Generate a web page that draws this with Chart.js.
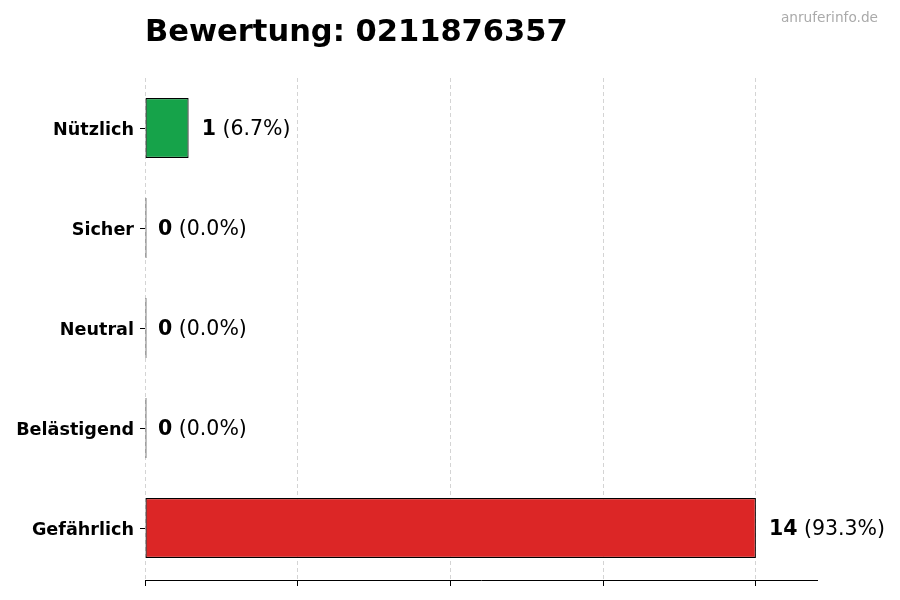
<!DOCTYPE html>
<html>
<head>
<meta charset="utf-8">
<script src="https://cdn.jsdelivr.net/npm/chart.js@4"></script>
<style>
  html, body { margin: 0; padding: 0; background: #fff; }
  #wrap { width: 900px; height: 600px; }
</style>
</head>
<body>
<div id="wrap"><canvas id="c" width="900" height="600"></canvas></div>
<script>
const categories = ["Nützlich", "Sicher", "Neutral", "Belästigend", "Gefährlich"];
const counts = [1, 0, 0, 0, 14];
const barColors = ["#16a34a", "#9ca3af", "#6b7280", "#f59e0b", "#dc2626"];
const xTicks = [0, 3.5, 7, 10.5, 14];
const titleText = "Bewertung: 0211876357";
const watermark = "anruferinfo.de";

const total = counts.reduce((a, b) => a + b, 0);
const FONT = "'DejaVu Sans', sans-serif";

// Title, watermark and the value labels next to each bar
const textPlugin = {
  id: "texts",
  afterDraw(chart) {
    const ctx = chart.ctx;
    const area = chart.chartArea;
    ctx.save();
    ctx.fillStyle = "#000";
    ctx.font = "bold 30.5px " + FONT;
    ctx.textAlign = "left";
    ctx.textBaseline = "alphabetic";
    ctx.fillText(titleText, area.left, 41);

    ctx.fillStyle = "#aaaaaa";
    ctx.font = "13.7px " + FONT;
    ctx.textAlign = "right";
    ctx.fillText(watermark, 878, 22);

    const meta = chart.getDatasetMeta(0);
    ctx.textAlign = "left";
    ctx.textBaseline = "middle";
    ctx.fillStyle = "#000";
    meta.data.forEach((bar, i) => {
      const v = counts[i];
      const pct = total ? (v / total * 100).toFixed(1) : "0.0";
      const x0 = chart.scales.x.getPixelForValue(v) + 13;
      const y0 = bar.y + 2;
      ctx.font = "bold 20.5px " + FONT;
      ctx.fillText(String(v), x0, y0);
      const w = ctx.measureText(String(v)).width;
      ctx.font = "20.5px " + FONT;
      ctx.fillText(" (" + pct + "%)", x0 + w, y0);
    });
    ctx.restore();
  }
};

new Chart(document.getElementById("c"), {
  type: "bar",
  data: {
    labels: categories,
    datasets: [{
      data: counts,
      backgroundColor: barColors,
      borderColor: "#000",
      borderWidth: 1.2,
      borderSkipped: false,
      minBarLength: 1.5,
      categoryPercentage: 1,
      barPercentage: 0.6
    }]
  },
  options: {
    indexAxis: "y",
    responsive: false,
    animation: false,
    devicePixelRatio: 1,
    layout: { padding: { top: 78, right: 83, bottom: 0, left: 0 } },
    plugins: {
      legend: { display: false },
      tooltip: { enabled: false },
      title: { display: false }
    },
    scales: {
      x: {
        min: 0,
        max: 15.4,
        z: 1,
        afterBuildTicks(scale) {
          scale.ticks = xTicks.map((v) => ({ value: v }));
        },
        afterFit(scale) { scale.height = 20; },
        ticks: { callback: () => "", font: { size: 1 } },
        grid: {
          color: "#d4d4d4",
          lineWidth: 1,
          tickColor: "#000",
          tickLength: 6,
          tickWidth: 1
        },
        border: { display: true, color: "#000", width: 1, dash: [4, 3] }
      },
      y: {
        // matplotlib-like margins: a bit more room below the last bar
        afterBuildTicks(scale) {
          scale._startValue = -0.5;
          scale._valueRange = 5.02;
        },
        afterFit(scale) { scale.width = 145; },
        grid: {
          offset: false,
          drawOnChartArea: false,
          tickColor: "#000",
          tickLength: 5,
          tickWidth: 1
        },
        border: { display: false },
        ticks: {
          color: "#000",
          padding: 6,
          labelOffset: 2,
          font: { family: FONT, size: 17.6, weight: "bold" }
        }
      }
    }
  },
  plugins: [textPlugin]
});
</script>
</body>
</html>
